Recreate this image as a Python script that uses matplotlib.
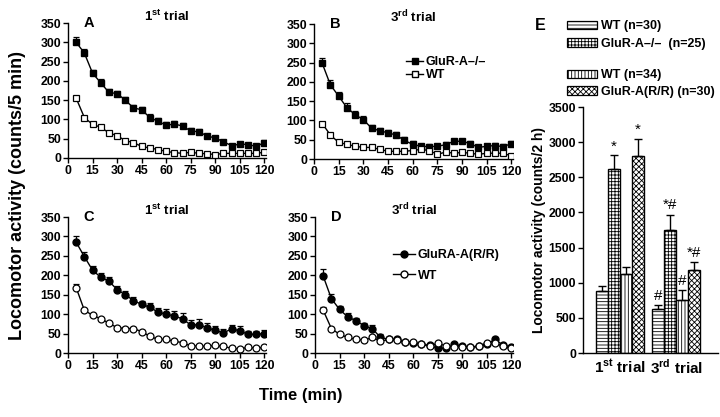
import numpy as np
import matplotlib
matplotlib.use('Agg')
import matplotlib.pyplot as plt
from matplotlib.patches import Patch
from matplotlib.lines import Line2D

plt.rcParams['font.family'] = ['Liberation Sans', 'DejaVu Sans']
plt.rcParams['font.weight'] = 'bold'
plt.rcParams['mathtext.fontset'] = 'custom'
plt.rcParams['mathtext.rm'] = 'Liberation Sans:bold'
plt.rcParams['mathtext.bf'] = 'Liberation Sans:bold'
plt.rcParams['hatch.linewidth'] = 0.6

# time points (min)
t = np.arange(5, 125, 5)

# A: GluR-A-/- vs WT, 1st trial
a_ko = [300, 272, 220, 195, 170, 167, 150, 130, 125, 105, 95, 85, 88, 83, 70, 68, 57, 52, 42, 32, 36, 35, 30, 40]
a_ko_err = [13, 10, 9, 10, 9, 8, 9, 8, 8, 8, 8, 8, 9, 8, 7, 7, 5, 5, 5, 5, 5, 5, 5, 7]
a_wt = [155, 105, 87, 80, 65, 58, 45, 40, 30, 26, 22, 17, 14, 12, 15, 12, 11, 9, 12, 12, 12, 12, 12, 15]
a_wt_err = [4, 3, 3, 3, 3, 3, 3, 3, 3, 3, 3, 3, 3, 3, 3, 3, 3, 3, 3, 3, 3, 3, 3, 3]

# B: GluR-A-/- vs WT, 3rd trial
b_ko = [248, 192, 163, 133, 115, 102, 80, 73, 68, 62, 48, 38, 33, 32, 33, 37, 46, 46, 40, 30, 33, 35, 32, 40]
b_ko_err = [14, 12, 12, 12, 9, 10, 8, 8, 8, 8, 8, 8, 7, 7, 7, 7, 7, 7, 6, 6, 6, 6, 6, 6]
b_wt = [92, 62, 43, 38, 33, 30, 30, 25, 20, 20, 20, 22, 25, 22, 12, 18, 15, 17, 15, 12, 15, 15, 15, 8]
b_wt_err = [4, 3, 3, 3, 3, 3, 3, 3, 3, 3, 3, 3, 3, 3, 3, 3, 3, 3, 3, 3, 3, 3, 3, 3]

# C: GluRA-A(R/R) vs WT, 1st trial
c_rr = [285, 248, 213, 195, 185, 163, 150, 135, 125, 118, 105, 100, 95, 88, 72, 73, 65, 58, 52, 62, 57, 48, 48, 50]
c_rr_err = [17, 12, 12, 10, 10, 10, 10, 10, 10, 10, 12, 12, 12, 14, 12, 15, 12, 12, 10, 10, 12, 8, 8, 10]
c_wt = [168, 110, 97, 88, 77, 65, 63, 63, 55, 43, 35, 35, 30, 27, 18, 18, 17, 20, 17, 12, 10, 15, 12, 15]
c_wt_err = [10, 4, 3, 3, 3, 3, 3, 3, 3, 3, 3, 3, 3, 3, 3, 3, 3, 3, 3, 3, 3, 3, 3, 3]

# D: GluRA-A(R/R) vs WT, 3rd trial
d_rr = [198, 140, 112, 93, 83, 70, 63, 40, 35, 35, 28, 27, 22, 20, 12, 12, 22, 18, 15, 18, 22, 35, 20, 15]
d_rr_err = [17, 12, 10, 10, 8, 8, 8, 8, 5, 5, 4, 4, 4, 4, 4, 4, 5, 4, 4, 4, 4, 6, 4, 4]
d_wt = [110, 63, 48, 40, 35, 33, 40, 30, 35, 33, 28, 28, 22, 18, 25, 18, 15, 15, 15, 17, 25, 25, 18, 12]
d_wt_err = [9, 4, 3, 3, 3, 3, 3, 3, 3, 3, 3, 3, 3, 3, 3, 3, 3, 3, 3, 3, 3, 3, 3, 3]

# E: total counts / 2 h
e_groups = ['1$^{\\mathrm{st}}$ trial', '3$^{\\mathrm{rd}}$ trial']
e_labels = ['WT (n=30)', 'GluR-A\u2013/\u2013  (n=25)', 'WT (n=34)', 'GluR-A(R/R) (n=30)']
e_vals = [[880, 2620, 1130, 2800], [620, 1750, 760, 1180]]
e_errs = [[70, 190, 100, 240], [60, 220, 130, 120]]
e_marks = [['', '*', '', '*'], ['#', '*#', '#', '*#']]
e_hatch = ['-----', '+++++', '|||||', 'xxxxxx']

fig = plt.figure(figsize=(7.2, 4.17), dpi=100)
W, H = 720.0, 417.0
TICK = 8.8


def add_ax(x0, x1, ytop, ybot):
    return fig.add_axes([x0 / W, 1 - ybot / H, (x1 - x0) / W, (ybot - ytop) / H])


def style(ax):
    for s in ['top', 'right']:
        ax.spines[s].set_visible(False)
    ax.spines['left'].set_linewidth(1.0)
    ax.spines['bottom'].set_linewidth(1.0)
    ax.tick_params(direction='out', length=3.5, width=1.0, labelsize=TICK, pad=1.5)
    for lab in ax.get_xticklabels() + ax.get_yticklabels():
        lab.set_fontweight('bold')


def time_panel(ax, y1, e1, y2, e2, marker, label1, label2, letter, title):
    ax.errorbar(t, y1, yerr=[np.zeros(len(e1)), e1], color='black', marker=marker,
                ms=5, mfc='black', mec='black', lw=1.0, elinewidth=0.9, capsize=2.5,
                capthick=0.9, label=label1, zorder=3)
    ax.errorbar(t, y2, yerr=[np.zeros(len(e2)), e2], color='black', marker=marker,
                ms=5, mfc='white', mec='black', mew=0.9, lw=1.0, elinewidth=0.9,
                capsize=2.5, capthick=0.9, label=label2, zorder=3)
    ax.set_xlim(0, 121)
    ax.set_ylim(0, 350)
    ax.set_xticks(np.arange(0, 121, 15))
    ax.set_yticks(np.arange(0, 351, 50))
    style(ax)
    ax.text(0.08, 1.0, letter, transform=ax.transAxes, fontsize=10.5, fontweight='bold',
            ha='left', va='center')
    ax.text(0.5, 1.05, title, transform=ax.transAxes, fontsize=9.5, fontweight='bold',
            ha='center', va='center')


axA = add_ax(68, 266, 23, 158)
axB = add_ax(314, 513, 24, 159)
axC = add_ax(68, 266, 217, 353)
axD = add_ax(315, 513, 217, 353)

time_panel(axA, a_ko, a_ko_err, a_wt, a_wt_err, 's', 'GluR-A\u2013/\u2013', 'WT', 'A',
           '1$^{\\mathrm{st}}$ trial')
time_panel(axB, b_ko, b_ko_err, b_wt, b_wt_err, 's', 'GluR-A\u2013/\u2013', 'WT', 'B',
           '3$^{\\mathrm{rd}}$ trial')
time_panel(axC, c_rr, c_rr_err, c_wt, c_wt_err, 'o', 'GluRA-A(R/R)', 'WT', 'C',
           '1$^{\\mathrm{st}}$ trial')
time_panel(axD, d_rr, d_rr_err, d_wt, d_wt_err, 'o', 'GluRA-A(R/R)', 'WT', 'D',
           '3$^{\\mathrm{rd}}$ trial')


def line_handles(marker):
    return [Line2D([], [], color='black', marker=marker, ms=5, mfc='black', lw=1.0),
            Line2D([], [], color='black', marker=marker, ms=5, mfc='white', lw=1.0)]


legB = axB.legend(line_handles('s'), ['GluR-A\u2013/\u2013', 'WT'], loc='upper left',
                  bbox_to_anchor=(0.43, 0.81), frameon=False, fontsize=9,
                  handlelength=1.4, handletextpad=0.2, labelspacing=0.12, borderpad=0)
legD = axD.legend(line_handles('o'), ['GluRA-A(R/R)', 'WT'], loc='upper left',
                  bbox_to_anchor=(0.36, 0.81), frameon=False, fontsize=9,
                  handlelength=1.8, handletextpad=0.2, labelspacing=0.7, borderpad=0)
for leg in (legB, legD):
    for txt in leg.get_texts():
        txt.set_fontweight('bold')

fig.text(0.025, 0.53, 'Locomotor activity (counts/5 min)', rotation=90, fontsize=13,
         fontweight='bold', ha='center', va='center')
fig.text(0.418, 0.052, 'Time (min)', fontsize=12, fontweight='bold', ha='center', va='center')

# panel E
axE = add_ax(583, 718, 107, 353)
bw = 0.167
group_x = np.array([0.0, 0.78])
for g in range(len(e_groups)):
    for i in range(len(e_labels)):
        x = group_x[g] + (i - 1.5) * bw
        axE.bar(x, e_vals[g][i], width=bw, color='white', edgecolor='black', linewidth=1.0,
                hatch=e_hatch[i], zorder=2)
        axE.errorbar(x, e_vals[g][i], yerr=[[0], [e_errs[g][i]]], color='black',
                     elinewidth=1.0, capsize=3, capthick=1.0, zorder=3)
        if e_marks[g][i]:
            axE.text(x, e_vals[g][i] + e_errs[g][i] + 30, e_marks[g][i], ha='center',
                     va='bottom', fontsize=11, fontweight='normal')
axE.set_xlim(-0.515, 1.365)
axE.set_ylim(0, 3500)
axE.set_yticks(np.arange(0, 3501, 500))
axE.set_xticks(group_x)
axE.set_xticklabels(e_groups)
style(axE)
axE.tick_params(axis='x', length=0, labelsize=11, pad=4)
for lab in axE.get_xticklabels():
    lab.set_fontweight('bold')
axE.set_ylabel('Locomotor activity (counts/2 h)', fontsize=10, fontweight='bold', labelpad=2)
axE.text(-0.32, 1.33, 'E', transform=axE.transAxes, fontsize=11.5, fontweight='bold',
         ha='center', va='center')

handles = [Patch(facecolor='white', edgecolor='black', hatch=h, linewidth=0.9) for h in e_hatch]
leg1 = fig.legend(handles[:2], e_labels[:2], loc='upper left', bbox_to_anchor=(561 / W, 1 - 14 / H),
                  frameon=False, fontsize=9, handlelength=2.4, handleheight=0.7,
                  handletextpad=0.3, labelspacing=0.45, borderpad=0)
leg2 = fig.legend(handles[2:], e_labels[2:], loc='upper left', bbox_to_anchor=(561 / W, 1 - 63 / H),
                  frameon=False, fontsize=9, handlelength=2.4, handleheight=0.7,
                  handletextpad=0.3, labelspacing=0.35, borderpad=0)
for leg in (leg1, leg2):
    for txt in leg.get_texts():
        txt.set_fontweight('bold')

fig.savefig('out.png', dpi=100)
